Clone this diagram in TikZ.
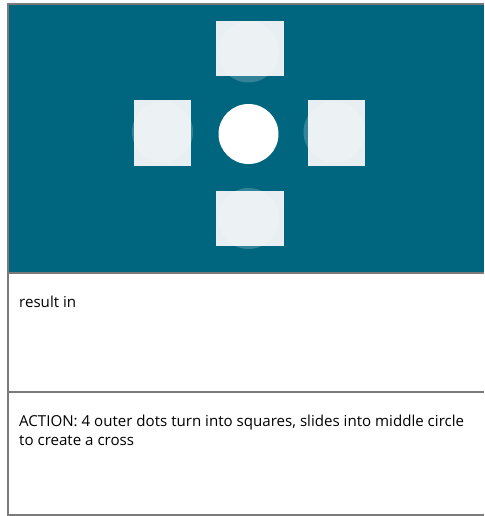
\documentclass[tikz,border=0pt]{standalone}
\usepackage{fontspec}
\setmainfont{Open Sans}
\usetikzlibrary{positioning}
\definecolor{panelteal}{HTML}{00667F}
\definecolor{tilegrey}{HTML}{E8EFF2}
\definecolor{frameline}{HTML}{7A7A7A}

\begin{document}
\begin{tikzpicture}[x=1pt, y=-1pt,
    tile/.style={fill=tilegrey, inner sep=0pt,
      minimum width=68pt, minimum height=55pt},
    sidetile/.style={tile, minimum width=57pt, minimum height=66pt},
    ghost/.style={circle, fill=white, fill opacity=0.2,
      minimum size=61pt, inner sep=0pt},
    caption/.style={anchor=base west, inner sep=0pt,
      font=\fontsize{15.1}{19}\selectfont}]
  \useasboundingbox (0,0) rectangle (484,516);

  % teal panel
  \fill[panelteal] (8,4) rectangle (484,273);

  % squares with faded dots behind
  \node[tile] (topsq) at (250,48.5) {};
  \node[ghost] (topdot) at (248.5,52) {};
  \node[sidetile] (leftsq) at (162.5,133.3) {};
  \node[ghost] (leftdot) at (162.5,132) {};
  \node[sidetile] (rightsq) at (336.5,133.3) {};
  \node[ghost] (rightdot) at (334,132) {};
  \node[tile] (botsq) at (250,218.5) {};
  \node[ghost] (botdot) at (248.5,218.5) {};

  \node[circle, fill=white, minimum size=60pt, inner sep=0pt]
    (middot) at (248.5,134) {};

  % frame and rows
  \draw[frameline, line width=1.5pt] (484,4) -- (8,4) -- (8,515) -- (484,515);
  \draw[frameline, line width=1.5pt] (8,273) -- (484,273);
  \draw[frameline, line width=1.5pt] (8,392) -- (484,392);

  \node[caption] (result) at (19,307) {result in};
  \node[caption] (actionA) at (19,426)
    {ACTION: 4 outer dots turn into squares, slides into middle circle};
  \node[caption] (actionB) at (19,445) {to create a cross};
\end{tikzpicture}
\end{document}
